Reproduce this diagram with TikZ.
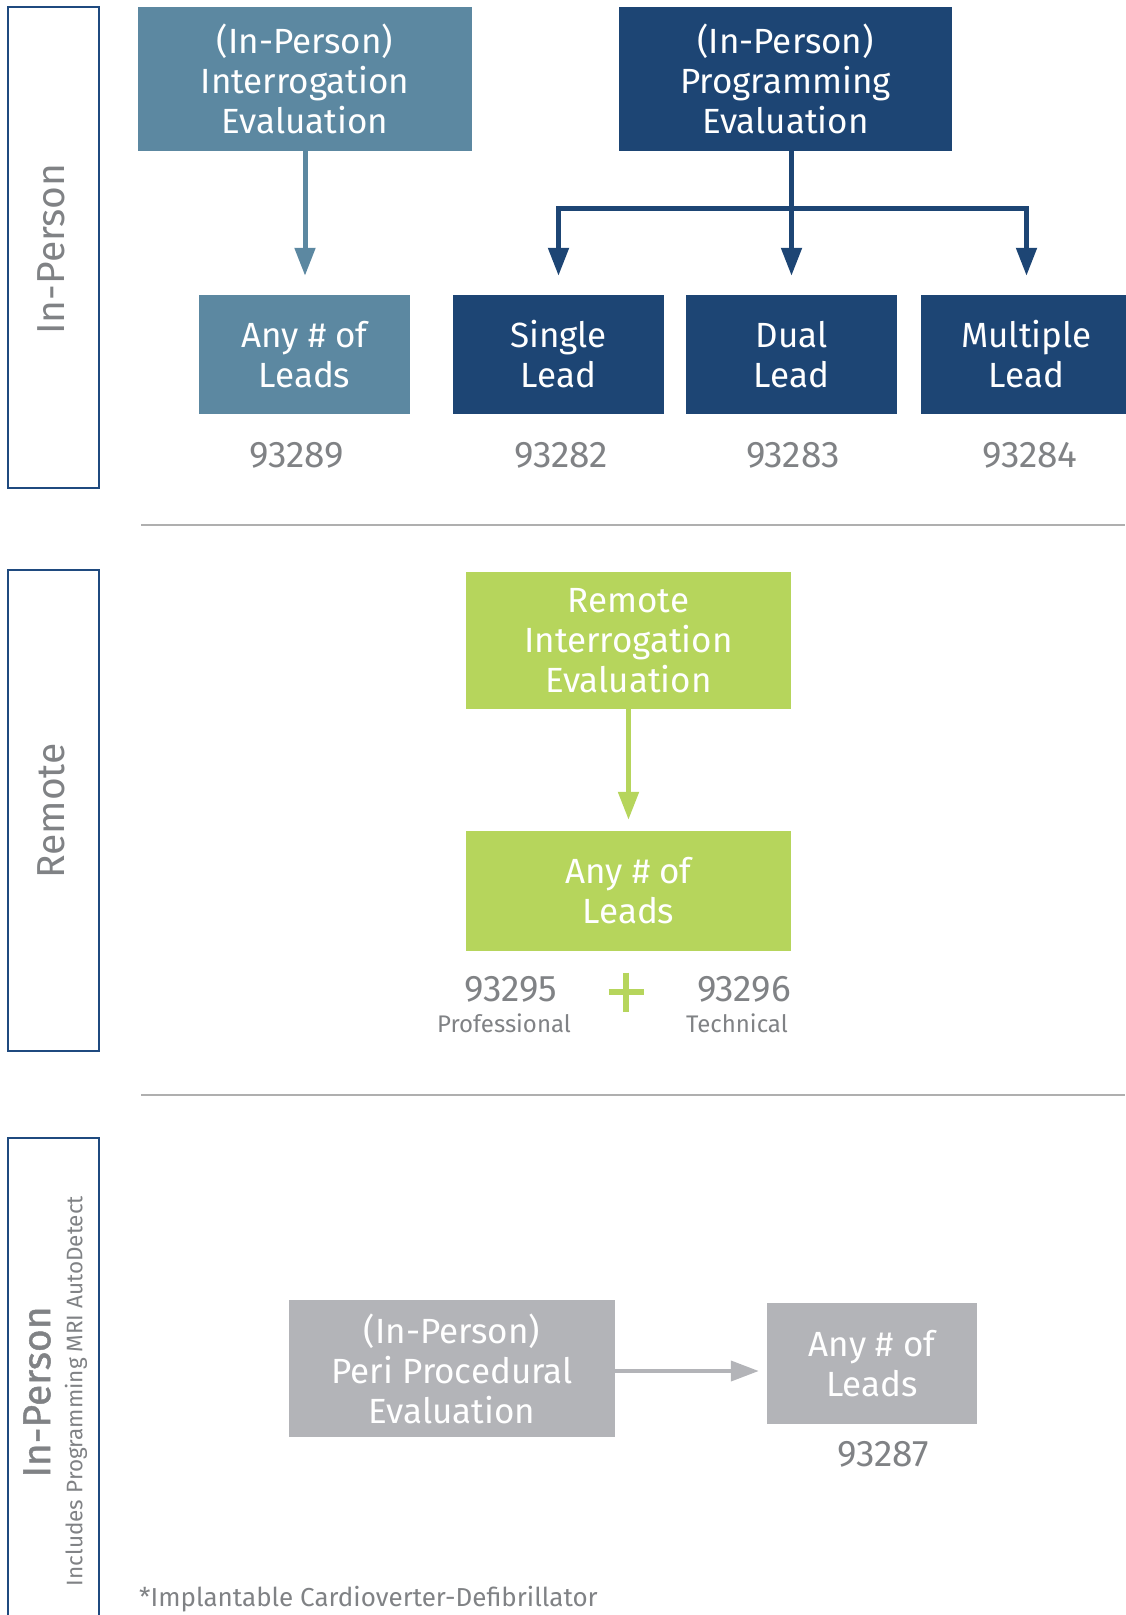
\documentclass[tikz,border=0pt]{standalone}
\usepackage{fontspec}
\setmainfont{Fira Sans}
\newfontfamily\medfont[FakeBold=1.2]{Fira Sans}
\usetikzlibrary{arrows.meta}
\definecolor{stb}{RGB}{92,136,161}
\definecolor{dkb}{RGB}{29,69,116}
\definecolor{grn}{RGB}{182,213,92}
\definecolor{gbox}{RGB}{179,180,184}
\definecolor{gtxt}{RGB}{128,130,133}
\definecolor{bord}{RGB}{31,74,127}
\definecolor{sepc}{RGB}{175,175,175}
\begin{document}
\begin{tikzpicture}[x=1pt,y=-1pt,
  box/.style={rectangle, inner sep=0pt, align=center, text=white, font=\fontsize{35}{40}\selectfont},
  bigbox/.style={box, minimum width=330pt, minimum height=140pt},
  leadbox/.style={box, minimum width=211pt, minimum height=119pt},
  code/.style={text=gtxt, inner sep=0pt, font=\fontsize{37}{40}\selectfont},
  sub/.style={text=gtxt, inner sep=0pt, font=\fontsize{24}{28}\selectfont},
  side/.style={draw=bord, line width=2pt, fill=none, inner sep=0pt, minimum width=91pt},
  sidelabel/.style={text=gtxt, inner sep=0pt, rotate=90, font=\fontsize{39}{44}\selectfont},
  arr/.style={line width=5pt, -{Triangle[width=20pt,length=28pt]}},
  sep/.style={draw=sepc, line width=2.5pt}
]
\useasboundingbox (0,0) rectangle (1125,1615);

% side boxes
\node[side, minimum height=481pt] (s1) at (53.5,247.5) {};
\node[side, minimum height=481pt] (s2) at (53.5,810.5) {};
\node[side, minimum height=500pt] (s3) at (53.5,1388) {};
\node[sidelabel] (l1) at (51,249) {In-Person};
\node[sidelabel] (l2) at (51,811) {Remote};
\node[sidelabel, font=\medfont\fontsize{39}{44}\selectfont] (l3) at (37,1392) {In-Person};
\node[text=gtxt, inner sep=0pt, rotate=90, font=\fontsize{22.5}{26}\selectfont] (l3b) at (76,1391) {Includes Programming MRI AutoDetect};

% separators
\coordinate (sepA1) at (141,525);
\coordinate (sepA2) at (1125,525);
\coordinate (sepB1) at (141,1095);
\coordinate (sepB2) at (1125,1095);
\draw[sep] (sepA1) -- (sepA2);
\draw[sep] (sepB1) -- (sepB2);

% in-person section
\node[bigbox, fill=stb, minimum width=334pt, minimum height=144pt] (intB) at (305,79) {(In-Person)\\Interrogation\\Evaluation};
\node[bigbox, fill=dkb, minimum width=333pt, minimum height=144pt] (progB) at (785.5,79) {(In-Person)\\Programming\\Evaluation};
\node[leadbox, fill=stb] (anyA) at (304.5,354.5) {Any \# of\\Leads};
\node[leadbox, fill=dkb] (single) at (558.5,354.5) {Single\\Lead};
\node[leadbox, fill=dkb] (dual) at (791.5,354.5) {Dual\\Lead};
\node[leadbox, fill=dkb] (multi) at (1026.5,354.5) {Multiple\\Lead};
\node[code] (c1) at (297,455) {93289};
\node[code] (c2) at (561,455) {93282};
\node[code] (c3) at (793,455) {93283};
\node[code] (c4) at (1030,455) {93284};

\draw[arr, stb, shorten >=19pt] (intB.south) -- (intB.south |- anyA.north);
\coordinate (bar) at (791,208);
\draw[arr, dkb, shorten >=19pt] (progB.south -| dual.north) -- (dual.north);
\draw[line width=5pt, dkb, {Triangle[width=20pt,length=28pt]}-{Triangle[width=20pt,length=28pt]}, shorten <=19pt, shorten >=19pt]
  (single.north) -- (single.north |- bar) -- (multi.north |- bar) -- (multi.north);

% remote section
\node[bigbox, fill=grn, minimum width=325pt, minimum height=137pt] (remB) at (628.5,640.5) {Remote\\Interrogation\\Evaluation};
\node[leadbox, fill=grn, minimum width=325pt, minimum height=120pt] (remAny) at (628.5,891) {Any \# of\\Leads};
\draw[arr, grn, shorten >=11pt] (remB.south) -- (remAny.north);
\node[code] (c5) at (511,989) {93295};
\node[sub] (p5) at (504,1023) {Professional};
\node[code] (c6) at (744,989) {93296};
\node[sub] (p6) at (737,1023) {Technical};
\coordinate (plusc) at (626,992);
\draw[grn, line width=5.5pt] ([xshift=-17.5pt]plusc) -- ([xshift=17.5pt]plusc);
\draw[grn, line width=5.5pt] ([yshift=19.5pt]plusc) -- ([yshift=-19.5pt]plusc);

% peri section
\node[bigbox, fill=gbox, minimum width=326pt, minimum height=137pt] (periB) at (452,1368.5) {(In-Person)\\Peri Procedural\\Evaluation};
\node[leadbox, fill=gbox, minimum width=210pt, minimum height=121pt] (periAny) at (872,1363.5) {Any \# of\\Leads};
\node[code] (c7) at (883,1454) {93287};
\coordinate (pa) at (615,1371);
\draw[line width=4pt, gbox, -{Triangle[width=20pt,length=28pt]}, shorten >=8pt] (pa) -- (pa -| periAny.west);

\node[anchor=base west, inner sep=0pt, text=gtxt, font=\fontsize{26}{30}\selectfont] (foot) at (139,1606) {*Implantable Cardioverter-Defibrillator};
\end{tikzpicture}
\end{document}
